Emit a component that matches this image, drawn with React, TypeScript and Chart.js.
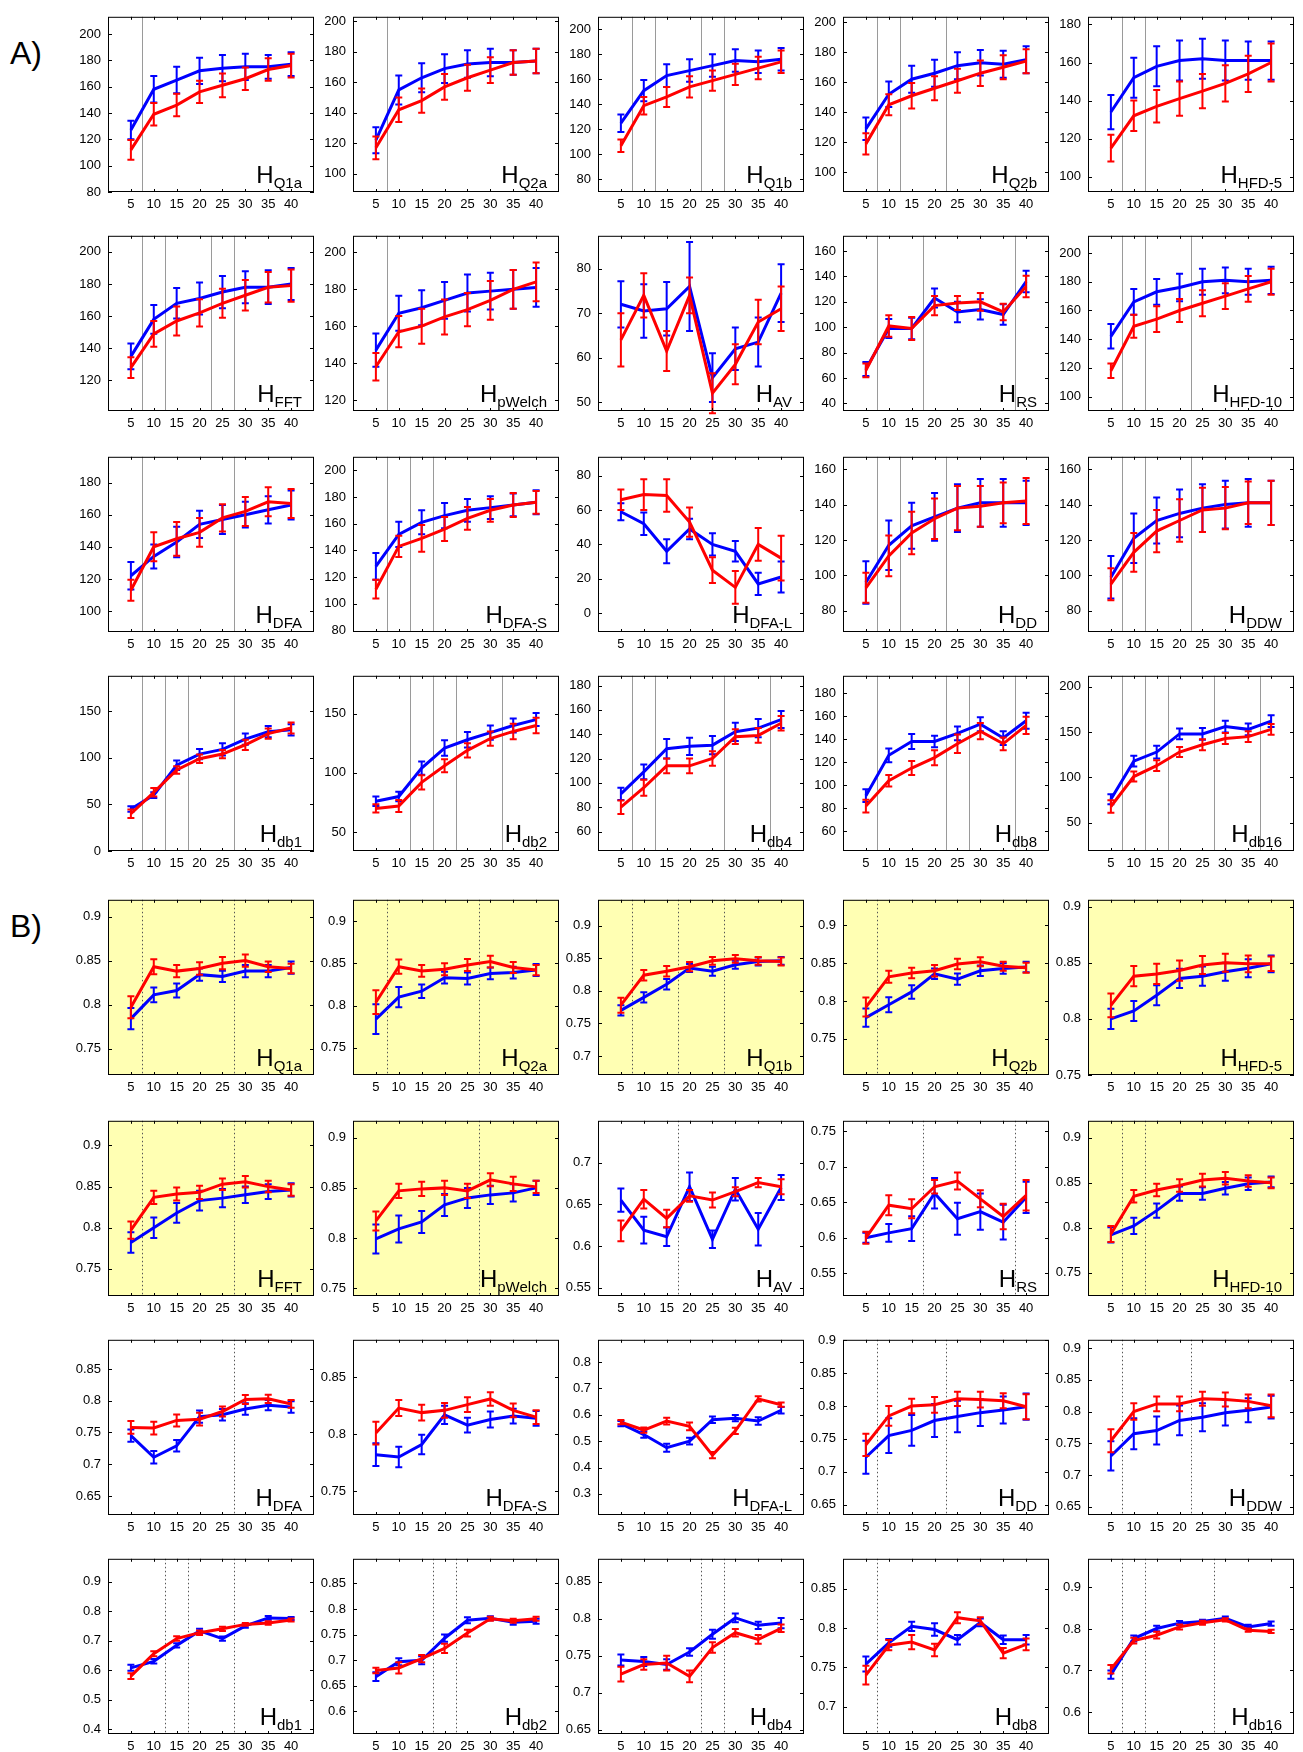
import React, { useEffect, useRef } from 'react';
import { Chart, registerables } from 'chart.js';

Chart.register(...registerables);

// ---------------- data ----------------
const X_VALUES = [5, 10, 15, 20, 25, 30, 35, 40];
const X_TICKS = [5, 10, 15, 20, 25, 30, 35, 40];
const PANEL_NAMES = ['Q1a', 'Q2a', 'Q1b', 'Q2b', 'HFD-5', 'FFT', 'pWelch', 'AV', 'RS', 'HFD-10',
  'DFA', 'DFA-S', 'DFA-L', 'DD', 'DDW', 'db1', 'db2', 'db4', 'db8', 'db16'];
const SECTION_LABELS = ['A)', 'B)'];

const A_RED = [
  [112, 139, 146, 156, 161, 166, 173, 176],
  [117, 142, 148, 157, 163, 168, 173, 174],
  [107, 139, 146, 154, 159, 164, 169, 174],
  [119, 145, 151, 156, 161, 166, 170, 174],
  [115, 132, 137, 141, 145, 149, 154, 160],
  [128, 149, 157, 162, 168, 173, 178, 179],
  [138, 157, 160, 165, 169, 174, 180, 184],
  [64, 74, 61.5, 74, 52, 58.5, 68, 71],
  [66, 101, 99, 117, 119, 120, 112, 132],
  [118, 149, 154, 160, 165, 170, 175, 180],
  [113, 140, 145, 149, 158, 162, 168, 167],
  [111, 143, 149, 156, 164, 170, 174, 176],
  [66, 69, 68.5, 53, 25, 15, 40, 32],
  [93, 111, 124, 132, 138, 139, 141, 142],
  [95, 113, 125, 131, 137, 138, 141, 141],
  [40, 63, 87, 99, 104, 114, 126, 132],
  [70, 72, 92, 106, 119, 129, 135, 140],
  [80, 96, 114, 114, 120, 138, 139, 149],
  [82, 104, 115, 124, 136, 147, 136, 152],
  [68, 101, 113, 128, 136, 143, 145, 153],
];
const A_RED_ERR = [
  [7.5, 8.5, 8.5, 8.5, 9, 8.5, 8.5, 9],
  [7.5, 8, 8, 8.5, 8.5, 8.5, 8, 8],
  [5, 7, 8, 8.5, 8, 8.5, 9, 9],
  [7, 7, 8.5, 8, 8, 8.5, 8, 8],
  [7, 8, 8.5, 9, 9, 9.5, 9.5, 10],
  [6.5, 8, 9, 8.5, 9, 9.5, 9.5, 10],
  [7.5, 8.5, 9.5, 9.5, 9, 10.5, 10.5, 10.5],
  [6, 5, 4.5, 4, 4.5, 4.5, 5, 5],
  [5.5, 8.5, 9, 7.5, 5.5, 7, 6.5, 8.5],
  [5, 8, 9, 8, 9, 9, 9, 9],
  [6.5, 9, 10.5, 9, 8.5, 9, 9, 9],
  [7, 8, 10, 9, 8.5, 8.5, 9, 8.5],
  [6, 9, 9.5, 8.5, 7.5, 9.5, 9.5, 13],
  [8.5, 11.5, 12, 11.5, 12.5, 11.5, 11.5, 13],
  [9, 11, 12, 12, 12.5, 12, 12, 12.5],
  [4.5, 4.5, 4, 4.5, 4.5, 5.5, 5.5, 6],
  [3.5, 5, 6, 5.5, 6, 6, 6.5, 6.5],
  [5.5, 6.5, 6, 6, 6, 6, 6, 6],
  [5.5, 5, 6, 6.5, 8, 7, 5.5, 7.5],
  [7, 5.5, 6, 5.5, 6, 6, 6, 6],
];
const A_BLUE = [
  [127, 158, 165, 172, 174, 175, 175, 177],
  [122, 155, 163, 169, 172, 173, 173, 174],
  [125, 151, 163, 167, 171, 175, 174, 176],
  [129, 152, 162, 166, 171, 173, 172, 175],
  [134, 152, 158, 161, 162, 161, 161, 161],
  [135, 158, 168, 171, 175, 178, 178, 180],
  [147, 167, 170, 174, 178, 179, 180, 181],
  [72, 70.5, 71, 76, 55.5, 62, 63.5, 74.5],
  [67, 99, 99, 123, 112, 114, 110, 136],
  [142, 166, 173, 176, 180, 181, 180, 181],
  [122, 134, 143, 154, 157, 160, 163, 166],
  [128, 152, 161, 166, 170, 172, 174, 176],
  [59, 52, 36, 49, 40, 36, 17, 21],
  [96, 117, 128, 133, 138, 141, 141, 141],
  [99, 121, 131, 135, 138, 140, 141, 141],
  [45, 60, 92, 104, 109, 120, 128, 130],
  [76, 80, 104, 121, 128, 134, 140, 145],
  [91, 109, 128, 130, 131, 142, 145, 152],
  [91, 126, 138, 138, 145, 153, 141, 156],
  [76, 118, 128, 148, 148, 156, 153, 162],
];
const A_BLUE_ERR = [
  [7, 10, 10, 10, 10, 10, 9, 9],
  [8.5, 9.5, 9.5, 9.5, 9, 9, 8, 8],
  [7, 8.5, 9, 9, 9, 9, 9, 9],
  [7.5, 8.5, 9, 9, 9, 8.5, 9, 9],
  [9, 10.5, 10.5, 10.5, 10.5, 10.5, 10, 10],
  [8, 9, 9.5, 10, 10, 10, 10.5, 10],
  [9, 9.5, 9.5, 10, 10, 10, 10.5, 10.5],
  [5.2, 6, 6, 10, 5.5, 4.8, 5.5, 6.5],
  [5.5, 7.5, 8.5, 7.5, 8, 8, 8, 8.5],
  [8.5, 9, 9, 9.5, 9, 9, 9, 9.5],
  [8.5, 7.5, 9.5, 8.5, 9, 8, 8.5, 9],
  [10, 9.5, 9, 9.5, 8.5, 8.5, 8.5, 9],
  [5, 6.5, 7, 6, 6.5, 6, 6.5, 9],
  [12, 14, 13, 13.5, 13.5, 13.5, 13.5, 12.5],
  [12, 14, 13, 13.5, 13.5, 13.5, 13.5, 12.5],
  [3, 3, 5, 5.5, 6.5, 6, 6, 6],
  [4, 4, 5.5, 6.5, 6.5, 6, 6, 5.5],
  [5, 6, 8, 7, 7.5, 7.5, 7.5, 7],
  [5.5, 6, 6.5, 5, 6, 6, 6, 7],
  [5.5, 6, 7, 6, 6.5, 6.5, 6.5, 6.5],
];
const A_Y_RANGE = [
  [80, 213], [88, 203], [70, 210], [87, 203.5], [92, 184],
  [101, 210], [114, 209], [48, 87.4], [34, 172], [90, 212],
  [87, 196], [79, 210], [-11, 91], [68, 167], [68, 167],
  [0, 188], [34, 182], [44, 188], [43, 195], [19, 212],
];
const A_Y_TICKS = [
  [80, 100, 120, 140, 160, 180, 200],
  [100, 120, 140, 160, 180, 200],
  [80, 100, 120, 140, 160, 180, 200],
  [100, 120, 140, 160, 180, 200],
  [100, 120, 140, 160, 180],
  [120, 140, 160, 180, 200],
  [120, 140, 160, 180, 200],
  [50, 60, 70, 80],
  [40, 60, 80, 100, 120, 140, 160],
  [100, 120, 140, 160, 180, 200],
  [100, 120, 140, 160, 180],
  [80, 100, 120, 140, 160, 180, 200],
  [0, 20, 40, 60, 80],
  [80, 100, 120, 140, 160],
  [80, 100, 120, 140, 160],
  [0, 50, 100, 150],
  [50, 100, 150],
  [60, 80, 100, 120, 140, 160, 180],
  [60, 80, 100, 120, 140, 160, 180],
  [50, 100, 150, 200],
];
const A_VLINES = [
  [7.5], [7.5], [7.5, 12.5, 22.5, 27.5], [7.5, 12.5, 22.5], [7.5, 12.5],
  [7.5, 12.5, 22.5, 27.5], [7.5], [], [7.5, 17.5, 37.5], [7.5, 12.5, 22.5],
  [7.5, 27.5], [7.5, 12.5, 17.5], [], [7.5, 12.5, 22.5], [7.5, 12.5, 22.5],
  [7.5, 12.5, 17.5, 27.5], [12.5, 17.5, 22.5, 32.5], [7.5, 12.5, 27.5, 37.5],
  [7.5, 22.5, 27.5, 37.5], [7.5, 12.5, 17.5, 27.5, 37.5],
];

const B_RED = [
  [0.797, 0.843, 0.838, 0.841, 0.847, 0.85, 0.843, 0.841],
  [0.804, 0.846, 0.841, 0.843, 0.848, 0.852, 0.845, 0.842],
  [0.778, 0.824, 0.83, 0.837, 0.846, 0.849, 0.846, 0.845],
  [0.792, 0.832, 0.837, 0.84, 0.849, 0.852, 0.846, 0.844],
  [0.812, 0.838, 0.84, 0.843, 0.848, 0.85, 0.849, 0.849],
  [0.797, 0.837, 0.841, 0.843, 0.853, 0.856, 0.85, 0.846],
  [0.817, 0.847, 0.849, 0.85, 0.847, 0.858, 0.854, 0.851],
  [0.618, 0.656, 0.633, 0.66, 0.655, 0.665, 0.676, 0.671],
  [0.6, 0.646, 0.641, 0.672, 0.68, 0.655, 0.63, 0.66],
  [0.793, 0.835, 0.842, 0.847, 0.853, 0.855, 0.852, 0.85],
  [0.758, 0.757, 0.769, 0.771, 0.783, 0.802, 0.803, 0.795],
  [0.801, 0.823, 0.819, 0.821, 0.826, 0.831, 0.821, 0.815],
  [0.572, 0.542, 0.576, 0.556, 0.447, 0.539, 0.66, 0.638],
  [0.741, 0.785, 0.8, 0.802, 0.811, 0.81, 0.808, 0.799],
  [0.754, 0.8, 0.812, 0.812, 0.82, 0.819, 0.816, 0.809],
  [0.58, 0.656, 0.707, 0.727, 0.74, 0.755, 0.76, 0.77],
  [0.68, 0.685, 0.703, 0.723, 0.753, 0.781, 0.777, 0.781],
  [0.725, 0.738, 0.74, 0.722, 0.761, 0.781, 0.772, 0.787],
  [0.74, 0.778, 0.782, 0.772, 0.813, 0.809, 0.768, 0.779],
  [0.703, 0.772, 0.785, 0.805, 0.815, 0.822, 0.797, 0.794],
];
const B_RED_ERR = [
  [0.0125, 0.0085, 0.007, 0.007, 0.007, 0.007, 0.006, 0.0055],
  [0.014, 0.0085, 0.007, 0.007, 0.007, 0.007, 0.0065, 0.006],
  [0.0115, 0.008, 0.008, 0.007, 0.006, 0.006, 0.006, 0.006],
  [0.0125, 0.008, 0.007, 0.0075, 0.007, 0.006, 0.006, 0.0065],
  [0.0105, 0.009, 0.009, 0.009, 0.008, 0.008, 0.0075, 0.0065],
  [0.0105, 0.008, 0.008, 0.008, 0.007, 0.007, 0.007, 0.007],
  [0.0095, 0.007, 0.007, 0.007, 0.007, 0.0065, 0.007, 0.006],
  [0.0125, 0.011, 0.0105, 0.007, 0.009, 0.0055, 0.0055, 0.009],
  [0.0085, 0.014, 0.0135, 0.0095, 0.012, 0.012, 0.018, 0.0215],
  [0.009, 0.007, 0.007, 0.007, 0.007, 0.007, 0.0065, 0.006],
  [0.01, 0.01, 0.0095, 0.01, 0.008, 0.007, 0.0065, 0.006],
  [0.01, 0.007, 0.007, 0.0065, 0.0065, 0.006, 0.006, 0.006],
  [0.008, 0.01, 0.013, 0.015, 0.012, 0.012, 0.01, 0.008],
  [0.017, 0.015, 0.011, 0.012, 0.011, 0.012, 0.0115, 0.019],
  [0.018, 0.013, 0.0115, 0.0115, 0.011, 0.011, 0.011, 0.018],
  [0.01, 0.0085, 0.0075, 0.0075, 0.007, 0.005, 0.006, 0.005],
  [0.0055, 0.011, 0.007, 0.009, 0.0065, 0.004, 0.004, 0.004],
  [0.01, 0.007, 0.01, 0.008, 0.007, 0.005, 0.006, 0.005],
  [0.012, 0.0065, 0.009, 0.008, 0.007, 0.0045, 0.0065, 0.0075],
  [0.01, 0.007, 0.008, 0.006, 0.005, 0.004, 0.004, 0.004],
];
const B_BLUE = [
  [0.784, 0.811, 0.816, 0.834, 0.832, 0.838, 0.838, 0.842],
  [0.784, 0.81, 0.817, 0.833, 0.832, 0.838, 0.839, 0.842],
  [0.77, 0.79, 0.81, 0.835, 0.83, 0.84, 0.845, 0.846],
  [0.778, 0.795, 0.812, 0.836, 0.829, 0.84, 0.843, 0.845],
  [0.8, 0.807, 0.821, 0.836, 0.838, 0.842, 0.845, 0.849],
  [0.782, 0.8, 0.818, 0.833, 0.836, 0.84, 0.844, 0.846],
  [0.799, 0.809, 0.816, 0.833, 0.84, 0.843, 0.845, 0.85],
  [0.655, 0.619, 0.611, 0.671, 0.608, 0.668, 0.62, 0.67],
  [0.6, 0.607, 0.613, 0.663, 0.627, 0.637, 0.622, 0.657],
  [0.792, 0.802, 0.819, 0.838, 0.838, 0.844, 0.849, 0.851],
  [0.745, 0.711, 0.729, 0.775, 0.778, 0.787, 0.793, 0.79],
  [0.782, 0.78, 0.791, 0.817, 0.808, 0.813, 0.816, 0.814],
  [0.566, 0.525, 0.475, 0.5, 0.581, 0.587, 0.576, 0.617],
  [0.722, 0.755, 0.763, 0.778, 0.784, 0.79, 0.794, 0.799],
  [0.73, 0.765, 0.77, 0.786, 0.791, 0.798, 0.802, 0.807],
  [0.608, 0.63, 0.684, 0.733, 0.707, 0.75, 0.777, 0.775],
  [0.668, 0.697, 0.7, 0.743, 0.778, 0.782, 0.774, 0.776],
  [0.744, 0.742, 0.738, 0.755, 0.779, 0.801, 0.791, 0.794],
  [0.754, 0.781, 0.802, 0.798, 0.785, 0.807, 0.785, 0.785],
  [0.69, 0.777, 0.801, 0.814, 0.818, 0.826, 0.805, 0.813],
];
const B_BLUE_ERR = [
  [0.012, 0.0085, 0.008, 0.007, 0.0065, 0.007, 0.007, 0.007],
  [0.0175, 0.012, 0.008, 0.007, 0.007, 0.007, 0.007, 0.007],
  [0.008, 0.008, 0.008, 0.006, 0.007, 0.006, 0.006, 0.006],
  [0.012, 0.01, 0.009, 0.007, 0.0075, 0.007, 0.007, 0.007],
  [0.009, 0.009, 0.009, 0.0085, 0.0085, 0.008, 0.008, 0.0075],
  [0.0125, 0.0125, 0.012, 0.012, 0.011, 0.01, 0.009, 0.008],
  [0.0145, 0.0135, 0.011, 0.011, 0.01, 0.009, 0.0085, 0.007],
  [0.014, 0.016, 0.011, 0.017, 0.0105, 0.0135, 0.0195, 0.015],
  [0.007, 0.0125, 0.0175, 0.0215, 0.0225, 0.0255, 0.0245, 0.022],
  [0.0085, 0.009, 0.008, 0.008, 0.007, 0.007, 0.007, 0.006],
  [0.0095, 0.01, 0.009, 0.0095, 0.009, 0.009, 0.008, 0.009],
  [0.01, 0.009, 0.0085, 0.008, 0.0065, 0.007, 0.0065, 0.0065],
  [0.01, 0.012, 0.015, 0.013, 0.012, 0.012, 0.014, 0.012],
  [0.025, 0.0265, 0.0235, 0.025, 0.024, 0.0205, 0.0205, 0.02],
  [0.023, 0.0245, 0.022, 0.0235, 0.022, 0.02, 0.019, 0.018],
  [0.01, 0.0075, 0.007, 0.007, 0.007, 0.006, 0.006, 0.005],
  [0.0085, 0.007, 0.008, 0.007, 0.006, 0.004, 0.0045, 0.005],
  [0.0075, 0.006, 0.007, 0.005, 0.006, 0.006, 0.005, 0.007],
  [0.0095, 0.005, 0.006, 0.008, 0.006, 0.005, 0.0055, 0.006],
  [0.01, 0.007, 0.0065, 0.005, 0.004, 0.004, 0.005, 0.005],
];
const B_Y_RANGE = [
  [0.72, 0.919], [0.718, 0.925], [0.671, 0.9395], [0.702, 0.934], [0.75, 0.906],
  [0.717, 0.93], [0.742, 0.917], [0.54, 0.75], [0.518, 0.765], [0.724, 0.919],
  [0.62, 0.896], [0.729, 0.883], [0.22, 0.884], [0.634, 0.901], [0.637, 0.913],
  [0.384, 0.977], [0.556, 0.898], [0.644, 0.881], [0.665, 0.888], [0.547, 0.969],
];
const B_Y_TICKS = [
  [0.75, 0.8, 0.85, 0.9],
  [0.75, 0.8, 0.85, 0.9],
  [0.7, 0.75, 0.8, 0.85, 0.9],
  [0.75, 0.8, 0.85, 0.9],
  [0.75, 0.8, 0.85, 0.9],
  [0.75, 0.8, 0.85, 0.9],
  [0.75, 0.8, 0.85, 0.9],
  [0.55, 0.6, 0.65, 0.7],
  [0.55, 0.6, 0.65, 0.7, 0.75],
  [0.75, 0.8, 0.85, 0.9],
  [0.65, 0.7, 0.75, 0.8, 0.85],
  [0.75, 0.8, 0.85],
  [0.3, 0.4, 0.5, 0.6, 0.7, 0.8],
  [0.65, 0.7, 0.75, 0.8, 0.85, 0.9],
  [0.65, 0.7, 0.75, 0.8, 0.85, 0.9],
  [0.4, 0.5, 0.6, 0.7, 0.8, 0.9],
  [0.6, 0.65, 0.7, 0.75, 0.8, 0.85],
  [0.65, 0.7, 0.75, 0.8, 0.85],
  [0.7, 0.75, 0.8, 0.85],
  [0.6, 0.7, 0.8, 0.9],
];
const B_VLINES = [
  [7.5, 27.5], [7.5, 27.5], [7.5, 17.5, 27.5], [7.5], [],
  [7.5, 27.5], [27.5], [17.5], [17.5, 37.5], [7.5, 12.5],
  [27.5], [], [], [7.5, 22.5], [7.5, 22.5],
  [12.5, 17.5, 27.5], [17.5, 22.5], [22.5, 27.5], [7.5], [7.5, 12.5, 27.5],
];
const B_HIGHLIGHT = [
  true, true, true, true, true,
  true, true, false, false, true,
  false, false, false, false, false,
  false, false, false, false, false,
];

// ---------------- layout / style ----------------
const FONT = '"Liberation Sans Narrow", "Liberation Sans", Arial, sans-serif';
const RED = '#ff0000';
const BLUE = '#0000ff';
const YELLOW = '#ffffb3';
const COL_LEFT = [108, 353, 598, 843, 1088];
const ROW_TOP = [6, 225, 446, 665, 889, 1110, 1329, 1548];
const PW = 206;
const PH = 186;
const AXIS_W = 44;
const AXIS_H = 24;
const PAD_T = 4;
const PAD_R = 6;
const CW = AXIS_W + PW + PAD_R;
const CH = PAD_T + PH + AXIS_H;

type Spec = {
  red: number[]; redErr: number[]; blue: number[]; blueErr: number[];
  yMin: number; yMax: number; yTicks: number[]; vlines: number[];
  name: string; yellow: boolean; dotted: boolean;
};

function makeDeco(spec: Spec) {
  const errs = [spec.redErr, spec.blueErr];
  const vals = [spec.red, spec.blue];
  const cols = [RED, BLUE];
  return {
    id: 'panelDeco',
    beforeDatasetsDraw(chart: any) {
      const { ctx, chartArea: a, scales } = chart;
      ctx.save();
      if (spec.yellow) {
        ctx.fillStyle = YELLOW;
        ctx.fillRect(a.left, a.top, a.right - a.left, a.bottom - a.top);
      }
      ctx.lineWidth = 1;
      if (spec.dotted) {
        ctx.strokeStyle = '#555';
        ctx.setLineDash([1.5, 2.5]);
      } else {
        ctx.strokeStyle = '#9a9a9a';
      }
      for (const v of spec.vlines) {
        const x = Math.round(scales.x.getPixelForValue(v)) + 0.5;
        ctx.beginPath();
        ctx.moveTo(x, a.top);
        ctx.lineTo(x, a.bottom);
        ctx.stroke();
      }
      ctx.restore();
    },
    afterDatasetDraw(chart: any, args: any) {
      const i = args.index;
      const { ctx, scales } = chart;
      ctx.save();
      ctx.strokeStyle = cols[i];
      ctx.lineWidth = 2;
      ctx.beginPath();
      X_VALUES.forEach((xv, k) => {
        const x = scales.x.getPixelForValue(xv);
        const y1 = scales.y.getPixelForValue(vals[i][k] - errs[i][k]);
        const y2 = scales.y.getPixelForValue(vals[i][k] + errs[i][k]);
        ctx.moveTo(x, y1); ctx.lineTo(x, y2);
        ctx.moveTo(x - 3.5, y1); ctx.lineTo(x + 3.5, y1);
        ctx.moveTo(x - 3.5, y2); ctx.lineTo(x + 3.5, y2);
      });
      ctx.stroke();
      ctx.restore();
    },
    afterDraw(chart: any) {
      const { ctx, chartArea: a, scales } = chart;
      ctx.save();
      ctx.strokeStyle = '#000';
      ctx.lineWidth = 1;
      ctx.strokeRect(a.left + 0.5, a.top + 0.5, a.right - a.left - 1, a.bottom - a.top - 1);
      ctx.beginPath();
      for (const v of spec.yTicks) {
        const y = Math.round(scales.y.getPixelForValue(v)) + 0.5;
        ctx.moveTo(a.left, y); ctx.lineTo(a.left + 4, y);
        ctx.moveTo(a.right - 4, y); ctx.lineTo(a.right, y);
      }
      for (const v of X_TICKS) {
        const x = Math.round(scales.x.getPixelForValue(v)) + 0.5;
        ctx.moveTo(x, a.bottom); ctx.lineTo(x, a.bottom - 3);
        ctx.moveTo(x, a.top); ctx.lineTo(x, a.top + 3);
      }
      ctx.stroke();
      // panel label H with subscript
      ctx.fillStyle = '#000';
      ctx.textAlign = 'left';
      ctx.textBaseline = 'alphabetic';
      ctx.font = `24px ${FONT}`;
      const wH = ctx.measureText('H').width;
      ctx.font = `15px ${FONT}`;
      const wS = ctx.measureText(spec.name).width;
      const x0 = a.right - 12 - wH - wS;
      ctx.font = `24px ${FONT}`;
      ctx.fillText('H', x0, a.bottom - 9);
      ctx.font = `15px ${FONT}`;
      ctx.fillText(spec.name, x0 + wH, a.bottom - 4);
      ctx.restore();
    },
  };
}

function Panel({ spec, left, top }: { spec: Spec; left: number; top: number }) {
  const ref = useRef<HTMLCanvasElement | null>(null);
  useEffect(() => {
    if (!ref.current) return;
    const tickFont = { family: FONT, size: 13 };
    const chart = new Chart(ref.current, {
      type: 'line',
      data: {
        datasets: [
          {
            data: X_VALUES.map((x, k) => ({ x, y: spec.red[k] })),
            borderColor: RED, borderWidth: 3, pointRadius: 0, fill: false, tension: 0,
          },
          {
            data: X_VALUES.map((x, k) => ({ x, y: spec.blue[k] })),
            borderColor: BLUE, borderWidth: 3, pointRadius: 0, fill: false, tension: 0,
          },
        ],
      },
      options: {
        animation: false,
        responsive: false,
        devicePixelRatio: 1,
        events: [],
        layout: { padding: { left: 0, right: PAD_R, top: PAD_T, bottom: 0 } },
        plugins: { legend: { display: false }, tooltip: { enabled: false } },
        scales: {
          x: {
            type: 'linear', min: 0, max: 45,
            grid: { display: false, drawTicks: false },
            border: { display: false },
            afterBuildTicks: (s: any) => { s.ticks = X_TICKS.map((v) => ({ value: v })); },
            afterFit: (s: any) => { s.height = AXIS_H; },
            ticks: {
              autoSkip: false, maxRotation: 0, minRotation: 0, padding: 5, color: '#000',
              font: tickFont, callback: (v: any) => String(v),
            },
          },
          y: {
            type: 'linear', min: spec.yMin, max: spec.yMax,
            grid: { display: false, drawTicks: false },
            border: { display: false },
            afterBuildTicks: (s: any) => { s.ticks = spec.yTicks.map((v) => ({ value: v })); },
            afterFit: (s: any) => { s.width = AXIS_W; },
            ticks: {
              autoSkip: false, padding: 7, color: '#000', font: tickFont,
              callback: (v: any) => String(v),
            },
          },
        },
      } as any,
      plugins: [makeDeco(spec)],
    } as any);
    return () => chart.destroy();
  }, [spec]);
  return (
    <canvas
      ref={ref}
      width={CW}
      height={CH}
      style={{ position: 'absolute', left: left - AXIS_W, top: top - PAD_T, width: CW, height: CH }}
    />
  );
}

function buildSpecs(): { spec: Spec; left: number; top: number }[] {
  const out: { spec: Spec; left: number; top: number }[] = [];
  for (let i = 0; i < 20; i++) {
    out.push({
      spec: {
        red: A_RED[i], redErr: A_RED_ERR[i], blue: A_BLUE[i], blueErr: A_BLUE_ERR[i],
        yMin: A_Y_RANGE[i][0], yMax: A_Y_RANGE[i][1], yTicks: A_Y_TICKS[i], vlines: A_VLINES[i],
        name: PANEL_NAMES[i], yellow: false, dotted: false,
      },
      left: COL_LEFT[i % 5],
      top: ROW_TOP[Math.floor(i / 5)],
    });
  }
  for (let i = 0; i < 20; i++) {
    out.push({
      spec: {
        red: B_RED[i], redErr: B_RED_ERR[i], blue: B_BLUE[i], blueErr: B_BLUE_ERR[i],
        yMin: B_Y_RANGE[i][0], yMax: B_Y_RANGE[i][1], yTicks: B_Y_TICKS[i], vlines: B_VLINES[i],
        name: PANEL_NAMES[i], yellow: B_HIGHLIGHT[i], dotted: true,
      },
      left: COL_LEFT[i % 5],
      top: ROW_TOP[4 + Math.floor(i / 5)],
    });
  }
  return out;
}

const PANELS = buildSpecs();

export default function App() {
  return (
    <div style={{ position: 'absolute', left: 0, top: 0, width: 1303, height: 1752, background: '#fff', overflow: 'hidden' }}>
      <div style={{ position: 'absolute', left: 10, top: 37, fontFamily: FONT, fontSize: 32, lineHeight: 1, color: '#000' }}>
        {SECTION_LABELS[0]}
      </div>
      <div style={{ position: 'absolute', left: 10, top: 910, fontFamily: FONT, fontSize: 32, lineHeight: 1, color: '#000' }}>
        {SECTION_LABELS[1]}
      </div>
      {PANELS.map((p, i) => (
        <Panel key={i} spec={p.spec} left={p.left} top={p.top} />
      ))}
    </div>
  );
}
